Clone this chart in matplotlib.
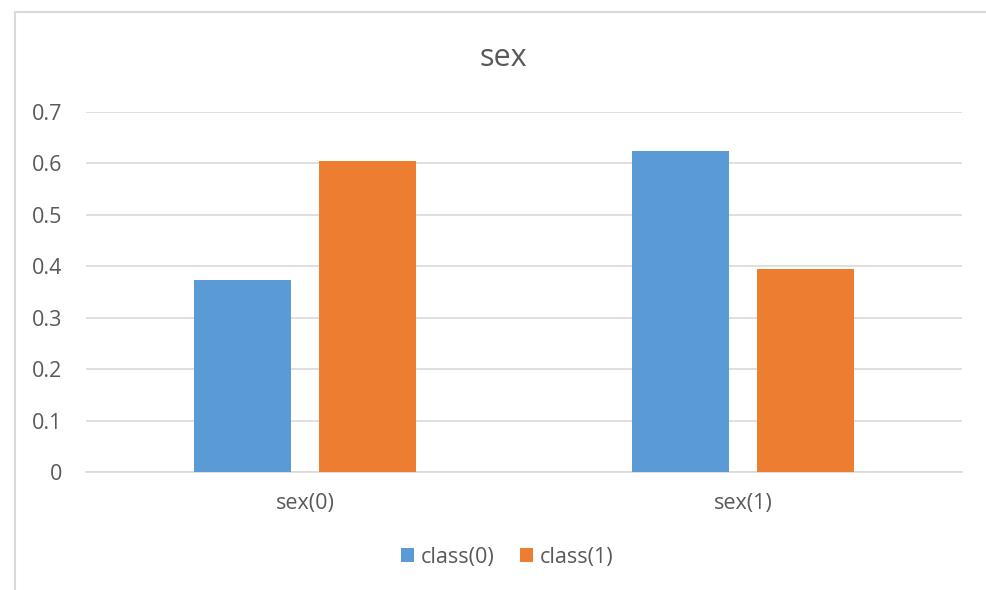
import numpy as np
import matplotlib
matplotlib.use("Agg")
import matplotlib.pyplot as plt
from matplotlib.patches import Rectangle

categories = ["sex(0)", "sex(1)"]
series_names = ["class(0)", "class(1)"]
class0 = [0.373, 0.625]
class1 = [0.605, 0.394]
y_ticks = [0, 0.1, 0.2, 0.3, 0.4, 0.5, 0.6, 0.7]
y_labels = ["0", "0.1", "0.2", "0.3", "0.4", "0.5", "0.6", "0.7"]

blue = "#5B9BD5"
orange = "#ED7D31"
text_col = "#595959"
grid_col = "#D9D9D9"

plt.rcParams["font.family"] = ["Open Sans", "DejaVu Sans"]

fig = plt.figure(figsize=(9.87, 5.90), dpi=100)
ax = fig.add_axes([86 / 987, 1 - 472 / 590, (962 - 86) / 987, (472 - 112) / 590])

# outer chart border (only top and left visible in reference)
fig.patches.append(Rectangle((15 / 987, -0.1), 1.2, 1 - 12 / 590 + 0.1,
                             transform=fig.transFigure, fill=False,
                             edgecolor=grid_col, linewidth=1.5))

x = np.arange(len(categories))
w = 0.222
off = 0.142
ax.bar(x - off, class0, w, color=blue, label=series_names[0], zorder=3)
ax.bar(x + off, class1, w, color=orange, label=series_names[1], zorder=3)

ax.set_xlim(-0.5, 1.5)
ax.set_ylim(0, 0.7)
ax.set_yticks(y_ticks)
ax.set_yticklabels(y_labels)
ax.set_xticks(x)
ax.set_xticklabels(categories)
ax.yaxis.grid(True, color=grid_col, linewidth=1.2, zorder=0)
for s in ["top", "right", "left"]:
    ax.spines[s].set_visible(False)
ax.spines["bottom"].set_color(grid_col)
ax.spines["bottom"].set_linewidth(1.2)
ax.tick_params(axis="both", length=0, colors=text_col, labelsize=15.5)
ax.tick_params(axis="y", pad=17)
ax.tick_params(axis="x", pad=15)

fig.text(503 / 987, 1 - 58 / 590, "sex", ha="center", va="center",
         fontsize=22, color=text_col)

fig.legend(loc="center", bbox_to_anchor=(507 / 987, 1 - 557 / 590), ncol=2, frameon=False,
           fontsize=15.5, labelcolor=text_col, handlelength=0.6, handleheight=0.6,
           handletextpad=0.3, columnspacing=1.2)

plt.savefig("out.png", dpi=100)
